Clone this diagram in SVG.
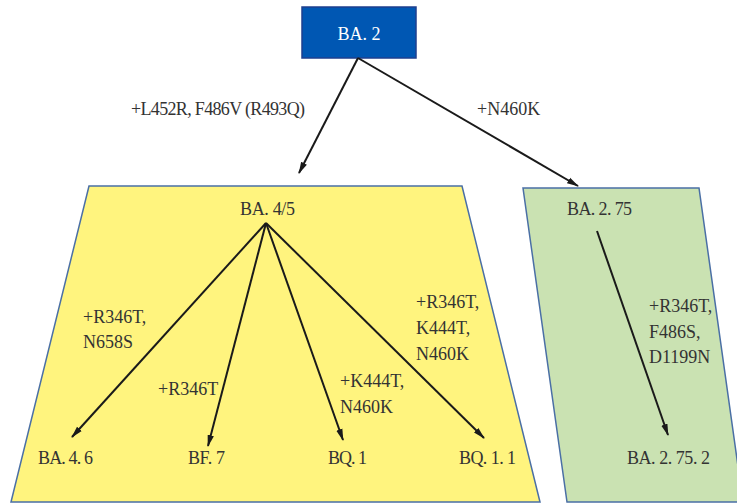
<svg xmlns="http://www.w3.org/2000/svg" width="737" height="503" viewBox="0 0 737 503">
  <defs>
    <style>
      .lbl { font-family: "Liberation Serif", "Noto Sans CJK SC", serif; font-size: 18px; fill: #333333; }
      .root { font-family: "Liberation Serif", "Noto Sans CJK SC", serif; font-size: 18px; fill: #ffffff; }
      .edge { stroke: #1a1a1a; stroke-width: 2; fill: none; marker-end: url(#arrow); }
      .region { stroke: #4a6fa5; stroke-width: 1.5; }
    </style>
    <marker id="arrow" viewBox="0 0 12 8" refX="11" refY="4" markerWidth="12" markerHeight="8" markerUnits="userSpaceOnUse" orient="auto">
      <path d="M0,0.8 L12,4 L0,7.2 Z" fill="#1a1a1a"/>
    </marker>
  </defs>
  <rect width="737" height="503" fill="#ffffff"/>

  <!-- lineage regions -->
  <g id="ba45-region">
    <polygon class="region" points="89,186 462,186 540,502 11,502" fill="#fff47e"/>
  </g>
  <g id="ba275-region">
    <polygon class="region" points="523,188 699,188 743,502 567,502" fill="#cae2b2"/>
  </g>

  <!-- nodes -->
  <g id="ba2">
    <rect x="302" y="7" width="114" height="51" fill="#0057b3" stroke="#1e3f8f" stroke-width="1.5"/>
    <text class="root" x="359" y="40" text-anchor="middle">BA. 2</text>
  </g>
  <g id="ba45"><text class="lbl" x="240" y="215" textLength="55">BA. 4/5</text></g>
  <g id="ba275"><text class="lbl" x="567" y="215" textLength="65">BA. 2. 75</text></g>
  <g id="ba46"><text class="lbl" x="38" y="464" textLength="55">BA. 4. 6</text></g>
  <g id="bf7"><text class="lbl" x="188" y="464" textLength="37">BF. 7</text></g>
  <g id="bq1"><text class="lbl" x="328" y="464" textLength="39">BQ. 1</text></g>
  <g id="bq11"><text class="lbl" x="459" y="464" textLength="57">BQ. 1. 1</text></g>
  <g id="ba2752"><text class="lbl" x="627" y="464" textLength="83">BA. 2. 75. 2</text></g>

  <!-- connectors -->
  <g id="connectors">
    <line class="edge" x1="358" y1="58" x2="299" y2="173"/>
    <line class="edge" x1="358" y1="58" x2="578" y2="186"/>
    <line class="edge" x1="266" y1="223" x2="72" y2="437"/>
    <line class="edge" x1="266" y1="223" x2="208" y2="446"/>
    <line class="edge" x1="266" y1="223" x2="343" y2="440"/>
    <line class="edge" x1="266" y1="223" x2="484" y2="438"/>
    <line class="edge" x1="597" y1="231" x2="668" y2="435"/>
  </g>

  <!-- mutation labels -->
  <g id="edge-labels">
    <text class="lbl" x="131" y="115" textLength="174">+L452R, F486V (R493Q)</text>
    <text class="lbl" x="477" y="115">+N460K</text>
    <text class="lbl" x="83" y="323">+R346T,</text>
    <text class="lbl" x="83" y="348">N658S</text>
    <text class="lbl" x="158" y="395">+R346T</text>
    <text class="lbl" x="340" y="387">+K444T,</text>
    <text class="lbl" x="340" y="413">N460K</text>
    <text class="lbl" x="416" y="308">+R346T,</text>
    <text class="lbl" x="416" y="334">K444T,</text>
    <text class="lbl" x="416" y="360">N460K</text>
    <text class="lbl" x="649" y="312">+R346T,</text>
    <text class="lbl" x="649" y="338">F486S,</text>
    <text class="lbl" x="649" y="363">D1199N</text>
  </g>
</svg>
